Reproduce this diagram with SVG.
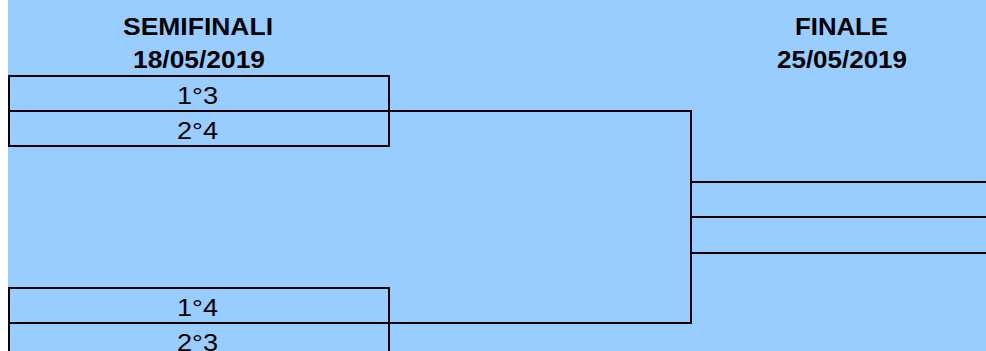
<svg xmlns="http://www.w3.org/2000/svg" width="986" height="351" viewBox="0 0 986 351">
<style>
.bg{fill:#99CCFF}
.box{fill:none;stroke:#000;stroke-width:2}
.ln{fill:none;stroke:#000;stroke-width:2}
.h{font-family:"Liberation Sans",Arial,sans-serif;font-weight:bold;font-size:24px;fill:#000;text-anchor:middle}
.t{font-family:"Liberation Sans",Arial,sans-serif;font-size:24px;fill:#000;text-anchor:middle}
</style>
<rect x="0" y="0" width="986" height="351" fill="#fff"/>
<rect class="bg" x="8" y="0" width="978" height="351"/>
<g id="titles">
<text class="h" x="198" y="35" textLength="150" lengthAdjust="spacingAndGlyphs">SEMIFINALI</text>
<text class="h" x="199" y="68" textLength="132" lengthAdjust="spacingAndGlyphs">18/05/2019</text>
<text class="h" x="841.5" y="35" textLength="93" lengthAdjust="spacingAndGlyphs">FINALE</text>
<text class="h" x="842" y="68" textLength="130" lengthAdjust="spacingAndGlyphs">25/05/2019</text>
</g>
<g id="semi1a"><rect class="box" x="9" y="76" width="380" height="35"/><text class="t" x="197.5" y="104" textLength="41" lengthAdjust="spacingAndGlyphs">1°3</text></g>
<g id="semi1b"><rect class="box" x="9" y="111" width="380" height="35"/><text class="t" x="197.5" y="139" textLength="41" lengthAdjust="spacingAndGlyphs">2°4</text></g>
<g id="semi2a"><rect class="box" x="9" y="288" width="380" height="35"/><text class="t" x="197.5" y="316" textLength="41" lengthAdjust="spacingAndGlyphs">1°4</text></g>
<g id="semi2b"><rect class="box" x="9" y="323" width="380" height="35"/><text class="t" x="197.5" y="351" textLength="41" lengthAdjust="spacingAndGlyphs">2°3</text></g>
<g id="final">
<line class="ln" x1="691" y1="182" x2="986" y2="182"/>
<line class="ln" x1="691" y1="217" x2="986" y2="217"/>
<line class="ln" x1="691" y1="253" x2="986" y2="253"/>
</g>
<g id="connectors">
<polyline class="ln" points="389,111 691,111 691,323 389,323"/>
</g>
</svg>
